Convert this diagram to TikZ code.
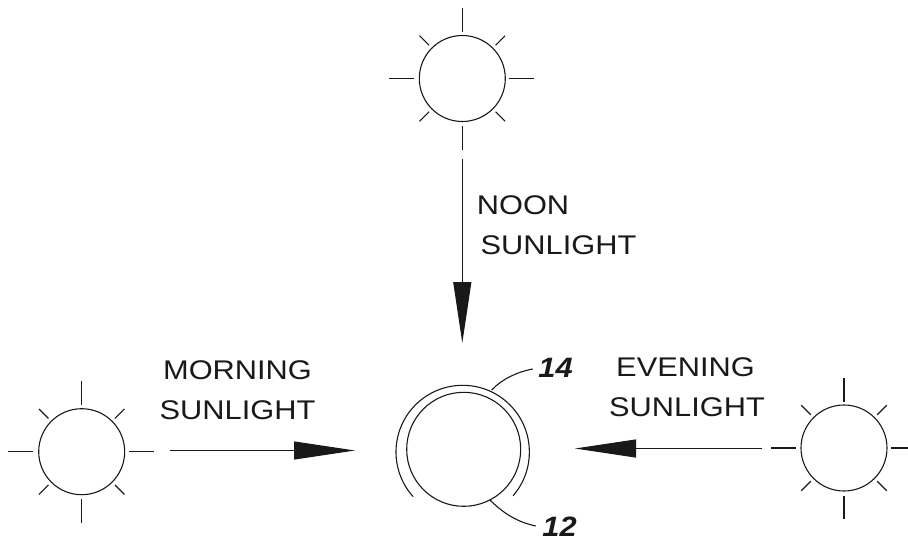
\documentclass[tikz,border=0pt]{standalone}
\usepackage{fontspec}
\usetikzlibrary{arrows.meta}
\newfontfamily\lblfont[FakeStretch=1.14]{Liberation Sans}
\newfontfamily\refnumfont[FakeStretch=1.1]{Liberation Sans Bold Italic}
\tikzset{
  x=1pt,y=-1pt,
  ink/.style={line width=1.1pt,black!90},
  sun/.style={circle,draw,ink,minimum size=86pt,inner sep=0pt,fill=white},
  ray/.style={ink},
  beam/.style={ink,-{Triangle[length=61pt,width=18pt]}},
  lbl/.style={font=\lblfont\fontsize{27pt}{29pt}\selectfont,text=black!90,inner sep=0pt},
  refnum/.style={font=\refnumfont\fontsize{28pt}{29pt}\selectfont,text=black!90,inner sep=0pt},
}
\newcommand{\sunrays}[2]{%
  \path (#1) ++(0,-70.5) coordinate (#2ta) ++(0,24) coordinate (#2tb);
  \path (#1) ++(0,47.5) coordinate (#2ba) ++(0,23.5) coordinate (#2bb);
  \path (#1) ++(-73.5,0) coordinate (#2la) ++(25,0) coordinate (#2lb);
  \path (#1) ++(47,0) coordinate (#2ra) ++(25,0) coordinate (#2rb);
  \draw[ray] (#2ta) -- (#2tb);
  \draw[ray] (#2ba) -- (#2bb);
  \draw[ray] (#2la) -- (#2lb);
  \draw[ray] (#2ra) -- (#2rb);
  \foreach \a in {45,135,225,315}{
    \draw[ray] (#1) ++(\a:47pt) -- ++(\a:13.5pt);
  }
}
\begin{document}
\begin{tikzpicture}
\useasboundingbox (0,0) rectangle (908,539);
% suns
\node[sun] (noon) at (462.3,78.5) {};
\node[sun] (morning) at (81.7,451.7) {};
\node[sun] (evening) at (844,448) {};
\sunrays{noon}{n}
\sunrays{morning}{m}
\sunrays{evening}{e}
% beams
\coordinate (ns) at (462.3,159);
\coordinate (nt) at (462.3,343);
\draw[beam] (ns) -- (nt);
\coordinate (ms) at (170,450.5);
\coordinate (mt) at (355,450.5);
\draw[beam] (ms) -- (mt);
\coordinate (es) at (762,448.5);
\coordinate (et) at (575,448.5);
\draw[beam] (es) -- (et);
% object and coating
\node[circle,draw,ink,minimum size=114pt,inner sep=0pt] (ball) at (463.7,449.3) {};
\coordinate (coat) at (462.7,452);
\draw[ink] (coat) ++(138:66.7) arc[start angle=138,end angle=401,radius=66.7];
% labels
\node[lbl] (noonA) at (523,205) {NOON};
\node[lbl] (noonB) at (558.5,245) {SUNLIGHT};
\node[lbl] (mornA) at (237.5,370) {MORNING};
\node[lbl] (mornB) at (237.5,410) {SUNLIGHT};
\node[lbl] (evenA) at (685.5,367) {EVENING};
\node[lbl] (evenB) at (687,407) {SUNLIGHT};
\node[refnum] (r14) at (555.5,368) {14};
\node[refnum] (r12) at (559.5,526.5) {12};
% leaders
\coordinate (l14a) at (491.7,390);
\coordinate (l14b) at (532.7,369);
\coordinate (l12a) at (490,500);
\coordinate (l12b) at (535.7,526);
\draw[ink] (l14a) .. controls (502,379) and (517,372) .. (l14b);
\draw[ink] (l12a) .. controls (503,513) and (517,522) .. (l12b);
\end{tikzpicture}
\end{document}
